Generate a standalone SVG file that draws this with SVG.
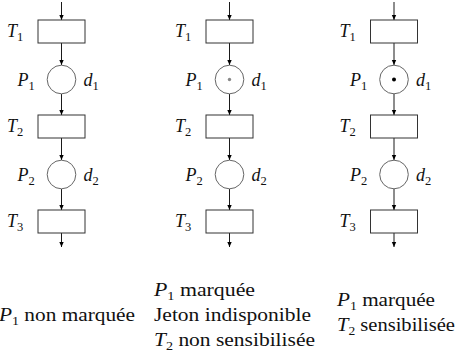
<svg xmlns="http://www.w3.org/2000/svg" width="457" height="351" viewBox="0 0 457 351">
<style>
.tr{fill:#fff;stroke:#333;stroke-width:1}
.pl{fill:#fff;stroke:#666;stroke-width:1}
.arc{stroke:#000;stroke-width:0.9;fill:none;marker-end:url(#ah)}
text{font-family:"Liberation Serif",serif;font-size:18px;fill:#111}
.cap{font-size:19px}
.it{font-style:italic}
.sub{font-size:12.5px}
</style>
<defs>
<marker id="ah" markerWidth="6" markerHeight="6" refX="5" refY="3" orient="auto" markerUnits="userSpaceOnUse">
<path d="M0,0.8 L5,3 L0,5.2 Z" fill="#000"/>
</marker>
</defs>
<g id="connectors">
<line class="arc" x1="61.5" y1="2" x2="61.5" y2="20"/>
<line class="arc" x1="61.5" y1="43" x2="61.5" y2="65"/>
<line class="arc" x1="61.5" y1="94" x2="61.5" y2="115"/>
<line class="arc" x1="61.5" y1="138" x2="61.5" y2="160"/>
<line class="arc" x1="61.5" y1="189" x2="61.5" y2="210"/>
<line class="arc" x1="61.5" y1="233" x2="61.5" y2="247"/>
<line class="arc" x1="229.5" y1="2" x2="229.5" y2="20"/>
<line class="arc" x1="229.5" y1="43" x2="229.5" y2="65"/>
<line class="arc" x1="229.5" y1="94" x2="229.5" y2="115"/>
<line class="arc" x1="229.5" y1="138" x2="229.5" y2="160"/>
<line class="arc" x1="229.5" y1="189" x2="229.5" y2="210"/>
<line class="arc" x1="229.5" y1="233" x2="229.5" y2="247"/>
<line class="arc" x1="394" y1="2" x2="394" y2="20"/>
<line class="arc" x1="394" y1="43" x2="394" y2="65"/>
<line class="arc" x1="394" y1="94" x2="394" y2="115"/>
<line class="arc" x1="394" y1="138" x2="394" y2="160"/>
<line class="arc" x1="394" y1="189" x2="394" y2="210"/>
<line class="arc" x1="394" y1="233" x2="394" y2="247"/>
</g>
<g id="c1-T1"><rect class="tr" x="38" y="20" width="47" height="23"/><text x="7" y="37"><tspan class="it">T</tspan><tspan class="sub" dy="3.5">1</tspan></text></g>
<g id="c1-P1"><circle class="pl" cx="61.5" cy="79.5" r="14.3"/><text x="17.5" y="86"><tspan class="it">P</tspan><tspan class="sub" dy="3.5">1</tspan></text><text x="83.5" y="86"><tspan class="it">d</tspan><tspan class="sub" dy="3.5">1</tspan></text></g>
<g id="c1-T2"><rect class="tr" x="38" y="115" width="47" height="23"/><text x="7" y="132"><tspan class="it">T</tspan><tspan class="sub" dy="3.5">2</tspan></text></g>
<g id="c1-P2"><circle class="pl" cx="61.5" cy="174.5" r="14.3"/><text x="17.5" y="181"><tspan class="it">P</tspan><tspan class="sub" dy="3.5">2</tspan></text><text x="83.5" y="181"><tspan class="it">d</tspan><tspan class="sub" dy="3.5">2</tspan></text></g>
<g id="c1-T3"><rect class="tr" x="38" y="210" width="47" height="23"/><text x="7" y="227"><tspan class="it">T</tspan><tspan class="sub" dy="3.5">3</tspan></text></g>

<g id="c2-T1"><rect class="tr" x="206" y="20" width="47" height="23"/><text x="175" y="37"><tspan class="it">T</tspan><tspan class="sub" dy="3.5">1</tspan></text></g>
<g id="c2-P1"><circle class="pl" cx="229.5" cy="79.5" r="14.3"/><circle cx="229.5" cy="79.5" r="1.7" fill="#888"/><text x="185.5" y="86"><tspan class="it">P</tspan><tspan class="sub" dy="3.5">1</tspan></text><text x="251.5" y="86"><tspan class="it">d</tspan><tspan class="sub" dy="3.5">1</tspan></text></g>
<g id="c2-T2"><rect class="tr" x="206" y="115" width="47" height="23"/><text x="175" y="132"><tspan class="it">T</tspan><tspan class="sub" dy="3.5">2</tspan></text></g>
<g id="c2-P2"><circle class="pl" cx="229.5" cy="174.5" r="14.3"/><text x="185.5" y="181"><tspan class="it">P</tspan><tspan class="sub" dy="3.5">2</tspan></text><text x="251.5" y="181"><tspan class="it">d</tspan><tspan class="sub" dy="3.5">2</tspan></text></g>
<g id="c2-T3"><rect class="tr" x="206" y="210" width="47" height="23"/><text x="175" y="227"><tspan class="it">T</tspan><tspan class="sub" dy="3.5">3</tspan></text></g>

<g id="c3-T1"><rect class="tr" x="370.5" y="20" width="47" height="23"/><text x="339.5" y="37"><tspan class="it">T</tspan><tspan class="sub" dy="3.5">1</tspan></text></g>
<g id="c3-P1"><circle class="pl" cx="394" cy="79.5" r="14.3"/><circle cx="394" cy="79.5" r="2" fill="#000"/><text x="350" y="86"><tspan class="it">P</tspan><tspan class="sub" dy="3.5">1</tspan></text><text x="416" y="86"><tspan class="it">d</tspan><tspan class="sub" dy="3.5">1</tspan></text></g>
<g id="c3-T2"><rect class="tr" x="370.5" y="115" width="47" height="23"/><text x="339.5" y="132"><tspan class="it">T</tspan><tspan class="sub" dy="3.5">2</tspan></text></g>
<g id="c3-P2"><circle class="pl" cx="394" cy="174.5" r="14.3"/><text x="350" y="181"><tspan class="it">P</tspan><tspan class="sub" dy="3.5">2</tspan></text><text x="416" y="181"><tspan class="it">d</tspan><tspan class="sub" dy="3.5">2</tspan></text></g>
<g id="c3-T3"><rect class="tr" x="370.5" y="210" width="47" height="23"/><text x="339.5" y="227"><tspan class="it">T</tspan><tspan class="sub" dy="3.5">3</tspan></text></g>

<g id="captions">
<text class="cap" x="-1" y="321" textLength="136" lengthAdjust="spacingAndGlyphs"><tspan class="it">P</tspan><tspan class="sub" dy="3.5">1</tspan><tspan dy="-3.5"> non marquée</tspan></text>
<text class="cap" x="154" y="296" textLength="101" lengthAdjust="spacingAndGlyphs"><tspan class="it">P</tspan><tspan class="sub" dy="3.5">1</tspan><tspan dy="-3.5"> marquée</tspan></text>
<text class="cap" x="154" y="321" textLength="157" lengthAdjust="spacingAndGlyphs">Jeton indisponible</text>
<text class="cap" x="154" y="346" textLength="161" lengthAdjust="spacingAndGlyphs"><tspan class="it">T</tspan><tspan class="sub" dy="3.5">2</tspan><tspan dy="-3.5"> non sensibilisée</tspan></text>
<text class="cap" x="337" y="306" textLength="98" lengthAdjust="spacingAndGlyphs"><tspan class="it">P</tspan><tspan class="sub" dy="3.5">1</tspan><tspan dy="-3.5"> marquée</tspan></text>
<text class="cap" x="337" y="331" textLength="118" lengthAdjust="spacingAndGlyphs"><tspan class="it">T</tspan><tspan class="sub" dy="3.5">2</tspan><tspan dy="-3.5"> sensibilisée</tspan></text>
</g>
</svg>
